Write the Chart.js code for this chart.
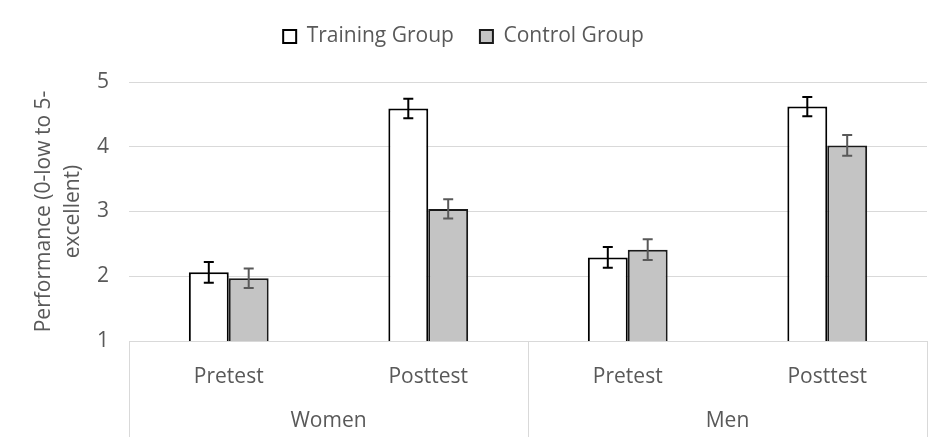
<!DOCTYPE html>
<html>
<head>
<meta charset="utf-8">
<script src="https://cdn.jsdelivr.net/npm/chart.js@4.4.1/dist/chart.umd.min.js"></script>
<style>
  html, body { margin: 0; padding: 0; background: #fff; }
  #wrap { width: 950px; height: 448px; }
</style>
</head>
<body>
<div id="wrap"><canvas id="chart"></canvas></div>
<script>
// --- data ---
const groups = ['Women', 'Men'];
const phases = ['Pretest', 'Posttest', 'Pretest', 'Posttest'];
const trainingMeans = [2.06, 4.59, 2.29, 4.62];
const trainingErr   = [0.16, 0.15, 0.16, 0.15];
const controlMeans  = [1.97, 3.04, 2.41, 4.02];
const controlErr    = [0.15, 0.15, 0.16, 0.16];
const yMin = 1, yMax = 5, yStep = 1;

const FONT = "'Open Sans', sans-serif";
const TEXT = '#595959';
const GRID = '#d9d9d9';

// extra space between legend and plot
const legendMargin = {
  id: 'legendMargin',
  beforeInit(chart) {
    const fit = chart.legend.fit;
    chart.legend.fit = function () {
      fit.call(this);
      this.height += 25;
    };
  }
};

// error bars: drawn from each bar element's x and the y scale
const errorBars = {
  id: 'errorBars',
  afterDatasetsDraw(chart) {
    const { ctx, scales: { y } } = chart;
    chart.data.datasets.forEach((ds, di) => {
      const meta = chart.getDatasetMeta(di);
      ctx.save();
      ctx.strokeStyle = ds.errorColor;
      ctx.lineWidth = 2;
      meta.data.forEach((bar, i) => {
        const v = ds.data[i], e = ds.errors[i];
        const top = y.getPixelForValue(v + e);
        const bot = y.getPixelForValue(v - e);
        const x = bar.x;
        ctx.beginPath();
        ctx.moveTo(x, top); ctx.lineTo(x, bot);
        ctx.moveTo(x - 5, top); ctx.lineTo(x + 5, top);
        ctx.moveTo(x - 5, bot); ctx.lineTo(x + 5, bot);
        ctx.stroke();
      });
      ctx.restore();
    });
  }
};

// two-level category axis box (phase row + gender row)
const groupAxis = {
  id: 'groupAxis',
  afterDraw(chart) {
    const { ctx, chartArea: a, scales: { x } } = chart;
    const bottom = 437;
    const mid = (x.getPixelForValue(1) + x.getPixelForValue(2)) / 2;
    ctx.save();
    ctx.strokeStyle = GRID;
    ctx.lineWidth = 1;
    ctx.beginPath();
    ctx.moveTo(a.left, a.bottom + 0.5); ctx.lineTo(a.right, a.bottom + 0.5);
    [a.left, mid, a.right].forEach(px => {
      const xx = Math.round(px) + 0.5;
      ctx.moveTo(xx, a.bottom); ctx.lineTo(xx, bottom);
    });
    ctx.stroke();
    ctx.fillStyle = TEXT;
    ctx.font = '21px ' + FONT;
    ctx.textAlign = 'center';
    ctx.textBaseline = 'middle';
    groups.forEach((g, gi) => {
      const cx = (x.getPixelForValue(gi * 2) + x.getPixelForValue(gi * 2 + 1)) / 2;
      ctx.fillText(g, cx, 421);
    });
    ctx.restore();
  }
};

new Chart(document.getElementById('chart'), {
  type: 'bar',
  data: {
    labels: phases,
    datasets: [
      {
        label: 'Training Group',
        data: trainingMeans,
        errors: trainingErr,
        errorColor: '#000000',
        backgroundColor: '#ffffff',
        borderColor: '#000000',
        borderWidth: 2,
        categoryPercentage: 0.4,
        barPercentage: 1.0
      },
      {
        label: 'Control Group',
        data: controlMeans,
        errors: controlErr,
        errorColor: '#595959',
        backgroundColor: '#c4c4c4',
        borderColor: '#1a1a1a',
        borderWidth: 2,
        categoryPercentage: 0.4,
        barPercentage: 1.0
      }
    ]
  },
  options: {
    responsive: true,
    maintainAspectRatio: false,
    animation: false,
    layout: { padding: { left: 0, right: 23, top: 0, bottom: 0 } },
    plugins: {
      tooltip: { enabled: false },
      legend: {
        position: 'top',
        labels: {
          color: TEXT,
          font: { family: FONT, size: 21 },
          boxWidth: 13,
          boxHeight: 13,
          padding: 26
        }
      }
    },
    scales: {
      x: {
        grid: { display: false, drawTicks: false },
        border: { display: false },
        ticks: { color: TEXT, font: { family: FONT, size: 21 }, padding: 23 },
        afterFit: s => { s.height = 107; }
      },
      y: {
        min: yMin,
        max: yMax,
        ticks: { stepSize: yStep, color: TEXT, font: { family: FONT, size: 21 }, padding: 20 },
        grid: { color: GRID, drawTicks: false },
        border: { display: false },
        title: {
          display: true,
          text: ['Performance (0-low to 5-', 'excellent)'],
          color: TEXT,
          font: { family: FONT, size: 21, lineHeight: 1.35 },
          padding: { top: 30, bottom: 0 }
        },
        afterFit: s => { s.width = 129; }
      }
    }
  },
  plugins: [legendMargin, errorBars, groupAxis]
});
</script>
</body>
</html>
